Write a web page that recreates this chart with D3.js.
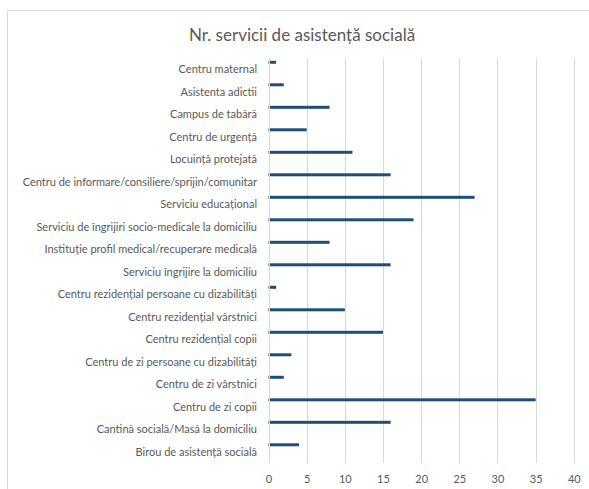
<!DOCTYPE html>
<html><head><meta charset="utf-8">
<script src="https://cdn.jsdelivr.net/npm/d3@7"></script>
<style>body{margin:0;background:#fff;}svg{display:block;}</style>
</head><body>
<script>
const categories = [
  "Centru maternal",
  "Asistenta adictii",
  "Campus de tabără",
  "Centru de urgență",
  "Locuință protejată",
  "Centru de informare/consiliere/sprijin/comunitar",
  "Serviciu educațional",
  "Serviciu de îngrijiri socio-medicale la domiciliu",
  "Instituție profil medical/recuperare medicală",
  "Serviciu îngrijire la domiciliu",
  "Centru rezidențial persoane cu dizabilități",
  "Centru rezidențial vârstnici",
  "Centru rezidențial copii",
  "Centru de zi persoane cu dizabilități",
  "Centru de zi vârstnici",
  "Centru de zi copii",
  "Cantină socială/Masă la domiciliu",
  "Birou de asistență socială"
];
const values = [1, 2, 8, 5, 11, 16, 27, 19, 8, 16, 1, 10, 15, 3, 2, 35, 16, 4];
const xTicks = [0, 5, 10, 15, 20, 25, 30, 35, 40];
const title = "Nr. servicii de asistență socială";

(function () {
const W = 589, H = 489;
const svg = d3.select("body").append("svg").attr("width", W).attr("height", H);
const font = "Lato, 'Open Sans', sans-serif";

svg.append("rect").attr("x", 7.5).attr("y", 10.5).attr("width", W).attr("height", H)
  .attr("fill", "#fff").attr("stroke", "#d9d9d9").attr("stroke-width", 1);

svg.append("text").attr("x", 302).attr("y", 41).attr("text-anchor", "middle")
  .attr("font-family", font).attr("font-size", 17).attr("fill", "#595959").text(title);

const pLeft = 268.5, pRight = 573.8, pTop = 58, pBottom = 463;
const x = d3.scaleLinear().domain([0, 40]).range([pLeft, pRight]);
const y = d3.scaleBand().domain(categories).range([pTop, pBottom]).padding(0);

svg.append("g").selectAll("line").data(xTicks.filter(d => d > 0)).join("line")
  .attr("x1", d => Math.round(x(d)) + 0.5).attr("x2", d => Math.round(x(d)) + 0.5)
  .attr("y1", pTop).attr("y2", pBottom).attr("stroke", "#d9d9d9").attr("stroke-width", 1);

svg.append("g").selectAll("rect").data(values).join("rect")
  .attr("x", x(0)).attr("y", (d, i) => y(categories[i]) + 2.8)
  .attr("width", d => x(d) - x(0)).attr("height", 3)
  .attr("fill", "#1f4e79");

svg.append("line").attr("x1", Math.round(x(0)) + 0.5).attr("x2", Math.round(x(0)) + 0.5)
  .attr("y1", pTop).attr("y2", pBottom).attr("stroke", "#d9d9d9");

svg.append("g").selectAll("text").data(categories).join("text")
  .attr("x", 257).attr("y", d => y(d) + y.bandwidth() / 2)
  .attr("dy", "0.35em").attr("text-anchor", "end")
  .attr("font-family", font).attr("font-size", 11).attr("fill", "#595959").text(d => d);

const xAxis = d3.axisBottom(x).tickValues(xTicks).tickSize(0).tickPadding(0);
const gx = svg.append("g").attr("transform", `translate(0,${pBottom})`).call(xAxis);
gx.select(".domain").remove();
gx.selectAll("text").attr("y", 16).attr("dy", "0.35em")
  .attr("font-family", font).attr("font-size", 11).attr("fill", "#595959");
})();
</script>
</body></html>
